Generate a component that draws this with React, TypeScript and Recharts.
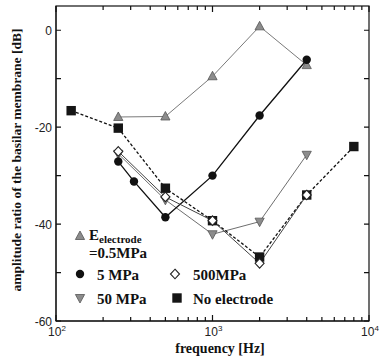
import { LineChart, Line, XAxis, YAxis, ReferenceArea } from 'recharts'

// frequencies [Hz] and amplitude ratios [dB]
const freqE05 = [250, 500, 1000, 2000, 4000]
const ampE05 = [-17.9, -17.8, -9.5, 0.8, -7.2]

const freq5 = [250, 315, 500, 1000, 2000, 4000]
const amp5 = [-27.1, -31.2, -38.6, -30.0, -17.6, -6.1]

const freq50 = [250, 500, 1000, 2000, 4000]
const amp50 = [-25.5, -35.0, -42.1, -39.5, -25.7]

const freq500 = [250, 500, 1000, 2000, 4000]
const amp500 = [-25.0, -34.4, -39.3, -48.1, -34.0]

const freqNone = [125, 250, 500, 1000, 2000, 4000, 8000]
const ampNone = [-16.6, -20.2, -32.6, -39.3, -46.8, -34.0, -24.0]

const xTicks = [100, 200, 300, 400, 500, 600, 700, 800, 900, 1000, 2000, 3000, 4000, 5000, 6000, 7000, 8000, 9000, 10000]
const xLabels: Record<number, string> = { 100: '2', 1000: '3', 10000: '4' }
const yTicks = [-60, -50, -40, -30, -20, -10, 0]
const yLabels = [-60, -40, -20, 0]

const X_DOMAIN = [100, 10000]
const Y_DOMAIN = [-60, 5]

const toRows = (f: number[], a: number[]) => f.map((freq, i) => ({ freq, amp: a[i] }))

const W = 383
const H = 364
const serif = '"Liberation Serif", "Times New Roman", serif'
const sans = '"Liberation Sans", Arial, sans-serif'

type Pt = { cx?: number; cy?: number }

const TriUp = ({ cx = 0, cy = 0 }: Pt) => (
  <path d={`M${cx},${cy - 5} L${cx + 4.6},${cy + 3.5} L${cx - 4.6},${cy + 3.5} Z`} fill="#8c8c8c" stroke="#555" strokeWidth={0.8} />
)
const TriDown = ({ cx = 0, cy = 0 }: Pt) => (
  <path d={`M${cx},${cy + 5} L${cx + 4.6},${cy - 3.5} L${cx - 4.6},${cy - 3.5} Z`} fill="#8c8c8c" stroke="#555" strokeWidth={0.8} />
)
const Dot = ({ cx = 0, cy = 0 }: Pt) => <circle cx={cx} cy={cy} r={4.2} fill="#111" />
const Diamond = ({ cx = 0, cy = 0 }: Pt) => (
  <path d={`M${cx},${cy - 4.8} L${cx + 4.5},${cy} L${cx},${cy + 4.8} L${cx - 4.5},${cy} Z`} fill="#fff" stroke="#222" strokeWidth={1.1} />
)
const Square = ({ cx = 0, cy = 0 }: Pt) => <rect x={cx - 4.7} y={cy - 4.7} width={9.4} height={9.4} fill="#151515" />

// axis labels only; the tick marks are drawn with the frame
function BottomTick({ x, y, payload }: any) {
  const exp = xLabels[payload.value]
  if (!exp) return <g />
  return (
    <text x={x + 1} y={y + 15} textAnchor="middle" fontFamily={sans} fontSize={12} fill="#222">
      10<tspan dy={-5} fontSize={8}>{exp}</tspan>
    </text>
  )
}

function LeftTick({ x, y, payload }: any) {
  const v = payload.value
  if (!yLabels.includes(v)) return <g />
  return (
    <text x={x - 4} y={y + 4.5} textAnchor="end" fontFamily={sans} fontSize={12} fill="#222">
      {v}
    </text>
  )
}

// plot frame with inward ticks on all four sides, plus the legend inside the plot
function Frame({ x, y, width, height }: any) {
  const lx = Math.log10(X_DOMAIN[0])
  const rx = Math.log10(X_DOMAIN[1])
  const px = (v: number) => x + (width * (Math.log10(v) - lx)) / (rx - lx)
  const py = (v: number) => y + (height * (Y_DOMAIN[1] - v)) / (Y_DOMAIN[1] - Y_DOMAIN[0])
  const b = y + height
  const r = x + width
  let d = ''
  xTicks.forEach((v) => {
    const len = xLabels[v] ? 6 : 4
    const t = px(v).toFixed(2)
    d += `M${t},${b}L${t},${b - len}M${t},${y}L${t},${y + len}`
  })
  yTicks.forEach((v) => {
    const t = py(v).toFixed(2)
    d += `M${x},${t}L${x + 5},${t}M${r},${t}L${r - 5},${t}`
  })
  const L = (dx: number) => x + dx
  const T = (dy: number) => y + dy
  return (
    <g>
      <rect x={x} y={y} width={width} height={height} fill="none" stroke="#111" strokeWidth={1.2} />
      <path d={d} stroke="#111" strokeWidth={1.2} fill="none" />
      <g fontFamily={serif} fontWeight="bold" fill="#111">
        <TriUp cx={L(24)} cy={T(230)} />
        <text x={L(33)} y={T(234)} fontSize={15}>
          E<tspan fontSize={11} dy={3}>electrode</tspan>
        </text>
        <text x={L(33)} y={T(251.5)} fontSize={15}>=0.5MPa</text>

        <Dot cx={L(24)} cy={T(268)} />
        <text x={L(41)} y={T(274)} fontSize={15}>5 MPa</text>
        <Diamond cx={L(119)} cy={T(268)} />
        <text x={L(137)} y={T(274)} fontSize={15}>500MPa</text>

        <TriDown cx={L(24)} cy={T(292)} />
        <text x={L(41)} y={T(298)} fontSize={15}>50 MPa</text>
        <Square cx={L(121)} cy={T(292)} />
        <text x={L(137)} y={T(298)} fontSize={15}>No electrode</text>
      </g>
    </g>
  )
}

export default function App() {
  return (
    <div style={{ position: 'absolute', left: 0, top: 0, width: W, height: H, background: '#fff' }}>
      <LineChart width={W} height={H} margin={{ top: 6, right: 14, bottom: 0, left: 0 }}>
        <XAxis
          xAxisId="b"
          dataKey="freq"
          type="number"
          scale="log"
          domain={X_DOMAIN}
          allowDataOverflow
          ticks={xTicks}
          interval={0}
          height={43}
          tickSize={0}
          tickMargin={0}
          tickLine={false}
          axisLine={{ stroke: '#111' }}
          tick={<BottomTick />}
        />
        <YAxis
          yAxisId="l"
          type="number"
          domain={Y_DOMAIN}
          allowDataOverflow
          ticks={yTicks}
          interval={0}
          width={56}
          tickSize={0}
          tickMargin={0}
          tickLine={false}
          axisLine={{ stroke: '#111' }}
          tick={<LeftTick />}
        />

        <Line xAxisId="b" yAxisId="l" data={toRows(freqE05, ampE05)} dataKey="amp" stroke="#7a7a7a" strokeWidth={1} dot={(p: any) => <TriUp key={p.index} cx={p.cx} cy={p.cy} />} isAnimationActive={false} />
        <Line xAxisId="b" yAxisId="l" data={toRows(freq50, amp50)} dataKey="amp" stroke="#6e6e6e" strokeWidth={1} dot={(p: any) => <TriDown key={p.index} cx={p.cx} cy={p.cy} />} isAnimationActive={false} />
        <Line xAxisId="b" yAxisId="l" data={toRows(freq5, amp5)} dataKey="amp" stroke="#111" strokeWidth={1.3} dot={(p: any) => <Dot key={p.index} cx={p.cx} cy={p.cy} />} isAnimationActive={false} />
        <Line xAxisId="b" yAxisId="l" data={toRows(freqNone, ampNone)} dataKey="amp" stroke="#111" strokeWidth={1.3} strokeDasharray="3 2" dot={(p: any) => <Square key={p.index} cx={p.cx} cy={p.cy} />} isAnimationActive={false} />
        <Line xAxisId="b" yAxisId="l" data={toRows(freq500, amp500)} dataKey="amp" stroke="#444" strokeWidth={1} dot={(p: any) => <Diamond key={p.index} cx={p.cx} cy={p.cy} />} isAnimationActive={false} />

        <ReferenceArea
          xAxisId="b"
          yAxisId="l"
          x1={X_DOMAIN[0]}
          x2={X_DOMAIN[1]}
          y1={Y_DOMAIN[0]}
          y2={Y_DOMAIN[1]}
          fill="none"
          fillOpacity={0}
          stroke="#111"
          shape={(p: any) => <Frame {...p} />}
        />
      </LineChart>

      <div
        style={{
          position: 'absolute',
          left: 17,
          top: 160,
          transform: 'translate(-50%, -50%) rotate(-90deg)',
          whiteSpace: 'nowrap',
          fontFamily: serif,
          fontWeight: 'bold',
          fontSize: 13.5,
          color: '#111',
        }}
      >
        amplitude ratio of the basilar membrane [dB]
      </div>
      <div
        style={{
          position: 'absolute',
          left: 220,
          top: 349,
          transform: 'translate(-50%, -50%)',
          whiteSpace: 'nowrap',
          fontFamily: serif,
          fontWeight: 'bold',
          fontSize: 14,
          color: '#111',
        }}
      >
        frequency [Hz]
      </div>
    </div>
  )
}
